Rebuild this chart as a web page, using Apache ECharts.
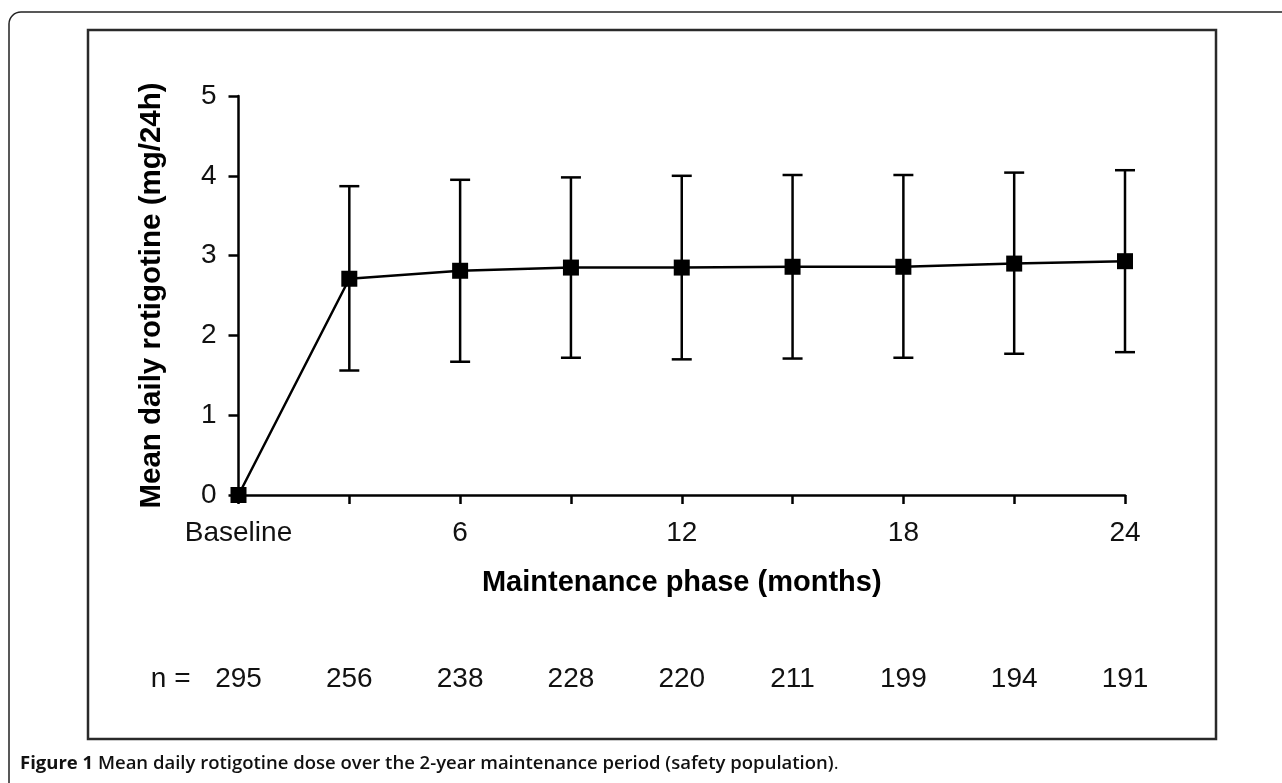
<!DOCTYPE html>
<html>
<head>
<meta charset="utf-8">
<script src="https://cdn.jsdelivr.net/npm/echarts@6/dist/echarts.min.js"></script>
<style>
  html, body { margin: 0; padding: 0; background: #fff; }
  #chart { width: 1282px; height: 783px; }
</style>
</head>
<body>
<div id="chart"></div>
<script>
// categories (months), only every other one gets a label
const meses = ['Baseline', '3', '6', '9', '12', '15', '18', '21', '24'];
const dosis = [0, 2.71, 2.81, 2.85, 2.85, 2.86, 2.86, 2.90, 2.93];
const barraAlta = [null, 3.87, 3.95, 3.98, 4.00, 4.01, 4.01, 4.04, 4.07];
const barraBaja = [null, 1.56, 1.67, 1.72, 1.70, 1.71, 1.72, 1.77, 1.79];
const pacientes = ['295', '256', '238', '228', '220', '211', '199', '194', '191'];

const fuente = '"Liberation Sans", Arial, sans-serif';
const fuentePie = '"Open Sans", sans-serif';

const barras = [];
meses.forEach((m, i) => {
  if (barraAlta[i] != null) barras.push([i, barraBaja[i], barraAlta[i]]);
});

const chart = echarts.init(document.getElementById('chart'));

chart.setOption({
  animation: false,
  backgroundColor: '#fff',
  grid: { left: 238.5, right: 157, top: 96, bottom: 288 },
  graphic: [
    {
      type: 'rect',
      shape: { x: 9, y: 12, width: 1300, height: 800, r: 12 },
      style: { fill: 'none', stroke: '#222', lineWidth: 1.5 },
      silent: true
    },
    {
      type: 'rect',
      shape: { x: 88, y: 30, width: 1128, height: 709 },
      style: { fill: 'none', stroke: '#2a2a2a', lineWidth: 2.5 },
      silent: true
    },
    {
      type: 'text',
      left: 20,
      top: 754,
      style: {
        text: '{b|Figure 1} {n|Mean daily rotigotine dose over the 2-year maintenance period (safety population)}.',
        fontFamily: fuentePie,
        fontSize: 18.5,
        fill: '#111',
        rich: {
          b: { fontWeight: 'bold', fontSize: 18.5, fontFamily: fuentePie, fill: '#111' },
          n: { fontWeight: 600, fontSize: 18.5, fontFamily: fuentePie, fill: '#111' }
        }
      }
    }
  ],
  xAxis: [
    {
      type: 'category',
      data: meses,
      boundaryGap: false,
      axisLine: { lineStyle: { color: '#000', width: 2.5 } },
      axisTick: { interval: 0, length: 9, lineStyle: { color: '#000', width: 2.5 } },
      axisLabel: {
        interval: 1,
        color: '#111',
        fontSize: 28,
        fontFamily: fuente,
        margin: 24
      },
      name: 'Maintenance phase (months)',
      nameLocation: 'middle',
      nameGap: 73,
      nameTextStyle: { color: '#000', fontSize: 29, fontWeight: 'bold', fontFamily: fuente }
    },
    {
      type: 'category',
      data: pacientes,
      boundaryGap: false,
      position: 'bottom',
      offset: 184,
      axisLine: { show: false },
      axisTick: { show: false },
      axisLabel: {
        interval: 0,
        color: '#111',
        fontSize: 28,
        fontFamily: fuente,
        margin: 0,
        verticalAlign: 'middle'
      },
      name: 'n =',
      nameLocation: 'start',
      nameGap: 48,
      nameTextStyle: { color: '#111', fontSize: 28, fontFamily: fuente, verticalAlign: 'middle' }
    }
  ],
  yAxis: {
    type: 'value',
    min: 0,
    max: 5,
    interval: 1,
    splitLine: { show: false },
    axisLine: { show: true, lineStyle: { color: '#000', width: 2.5 } },
    axisTick: { show: true, length: 10, lineStyle: { color: '#000', width: 2.5 } },
    axisLabel: { color: '#111', fontSize: 28, fontFamily: fuente, margin: 22 },
    name: 'Mean daily rotigotine (mg/24h)',
    nameLocation: 'middle',
    nameGap: 72,
    nameTextStyle: { color: '#000', fontSize: 29.5, fontWeight: 'bold', fontFamily: fuente }
  },
  series: [
    {
      type: 'custom',
      xAxisIndex: 0,
      z: 2,
      data: barras,
      renderItem(params, api) {
        const x = api.value(0);
        const abajo = api.coord([x, api.value(1)]);
        const arriba = api.coord([x, api.value(2)]);
        const medio = 10;
        const estilo = { stroke: '#000', lineWidth: 2.5 };
        return {
          type: 'group',
          children: [
            { type: 'line', shape: { x1: abajo[0], y1: abajo[1], x2: arriba[0], y2: arriba[1] }, style: estilo },
            { type: 'line', shape: { x1: arriba[0] - medio, y1: arriba[1], x2: arriba[0] + medio, y2: arriba[1] }, style: estilo },
            { type: 'line', shape: { x1: abajo[0] - medio, y1: abajo[1], x2: abajo[0] + medio, y2: abajo[1] }, style: estilo }
          ]
        };
      }
    },
    {
      type: 'line',
      xAxisIndex: 0,
      z: 3,
      data: dosis,
      symbol: 'rect',
      symbolSize: 16,
      lineStyle: { color: '#000', width: 2.5 },
      itemStyle: { color: '#000' }
    }
  ]
});
</script>
</body>
</html>
